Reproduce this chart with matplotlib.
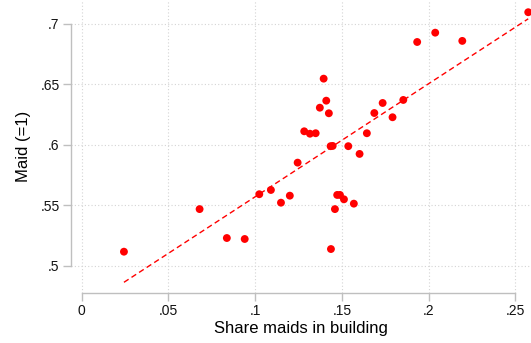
import matplotlib.pyplot as plt
import numpy as np

plt.rcParams['font.family'] = ['Liberation Sans', 'DejaVu Sans']

# binned means: share of maids in building vs. maid indicator
share = [0.0244, 0.0680, 0.0837, 0.0940, 0.1024, 0.1091, 0.1149, 0.1200,
         0.1245, 0.1283, 0.1316, 0.1349, 0.1373, 0.1395, 0.1410, 0.1425,
         0.1435, 0.1447, 0.1437, 0.1460, 0.1473, 0.1489, 0.1512, 0.1537,
         0.1569, 0.1602, 0.1644, 0.1687, 0.1735, 0.1792, 0.1854, 0.1934,
         0.2038, 0.2194, 0.2574]
maid = [0.5118, 0.5470, 0.5231, 0.5223, 0.5593, 0.5628, 0.5523, 0.5581,
        0.5854, 0.6113, 0.6093, 0.6097, 0.6308, 0.6548, 0.6366, 0.6262,
        0.5990, 0.5992, 0.5140, 0.5470, 0.5587, 0.5587, 0.5551, 0.5990,
        0.5515, 0.5926, 0.6097, 0.6264, 0.6347, 0.6229, 0.6372, 0.6851,
        0.6928, 0.6860, 0.7097]

# linear fit line
fit_intercept = 0.4637
fit_slope = 0.9346

xticks = [0, 0.05, 0.1, 0.15, 0.2, 0.25]
xticklabels = ['0', '.05', '.1', '.15', '.2', '.25']
yticks = [0.5, 0.55, 0.6, 0.65, 0.7]
yticklabels = ['.5', '.55', '.6', '.65', '.7']

fig = plt.figure(figsize=(5.31, 3.43), dpi=100)
ax = fig.add_axes([0.1331, 0.1466, 1 - 0.1331, 1 - 0.1466])

axis_gray = '#bfbfbf'
ax.grid(True, linestyle=(0, (1, 2)), color='#d4d4d4', linewidth=0.8)
ax.set_axisbelow(True)

ax.scatter(share, maid, s=32, color='#ff0000', edgecolors='none', zorder=3)

xs = np.array([min(share), max(share)])
ax.plot(xs, fit_intercept + fit_slope * xs, color='#ff0000',
        linestyle=(0, (4, 2.5)), linewidth=1.0, zorder=2)

ax.set_xlim(-0.0063, 0.259)
ax.set_ylim(0.4779, 0.7198)
ax.set_xticks(xticks)
ax.set_xticklabels(xticklabels)
ax.set_yticks(yticks)
ax.set_yticklabels(yticklabels)

for side in ['top', 'right']:
    ax.spines[side].set_visible(False)
ax.spines['left'].set_bounds(0.5, 0.7)
ax.spines['bottom'].set_bounds(0, 0.25)
for side in ['left', 'bottom']:
    ax.spines[side].set_color(axis_gray)
    ax.spines[side].set_linewidth(1.0)

ax.tick_params(axis='both', direction='out', length=5.5, width=1.0,
               color=axis_gray, labelsize=10, labelcolor='#111111', pad=2.5)

ax.set_xlabel('Share maids in building', fontsize=12, labelpad=2.5)
ax.set_ylabel('Maid (=1)', fontsize=12, labelpad=7)

fig.savefig('out.png', dpi=100)
